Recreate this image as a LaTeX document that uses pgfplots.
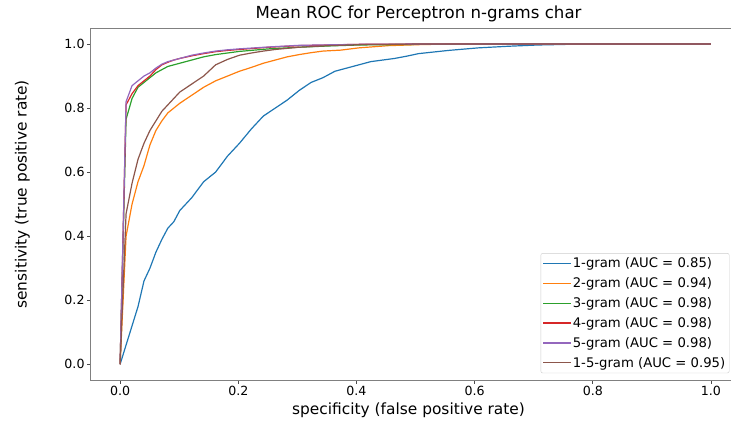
\documentclass[border=0pt]{standalone}
\usepackage{fontspec}
\setmainfont{DejaVu Sans}
\usepackage{pgfplots}
\pgfplotsset{compat=1.18}
\definecolor{c1}{HTML}{1F77B4}
\definecolor{c2}{HTML}{FF7F0E}
\definecolor{c3}{HTML}{2CA02C}
\definecolor{c4}{HTML}{D62728}
\definecolor{c5}{HTML}{9467BD}
\definecolor{c6}{HTML}{8C564B}
\begin{document}
\begin{tikzpicture}
\useasboundingbox (-90.5pt,-41pt) rectangle (640pt,380pt);
\clip (-90.5pt,-41pt) rectangle (640pt,380pt);
\begin{axis}[
  at={(0pt,0pt)}, anchor=south west,
  scale only axis, width=649.5pt, height=352pt,
  xmin=-0.05, xmax=1.05, ymin=-0.05, ymax=1.05,
  xtick={0,0.2,0.4,0.6,0.8,1.0}, ytick={0,0.2,0.4,0.6,0.8,1.0},
  xticklabels={0.0,0.2,0.4,0.6,0.8,1.0}, yticklabels={0.0,0.2,0.4,0.6,0.8,1.0},
  tick pos=left, tick align=outside, major tick length=3.5pt,
  every tick/.style={black!70, line width=0.8pt},
  axis line style={black!50, line width=1pt},
  /pgf/number format/assume math mode=true,
  ticklabel style={font=\fontsize{12.6}{15}\selectfont},
  xticklabel style={yshift=1pt},
  yticklabel style={xshift=1pt},
  title={Mean ROC for Perceptron n-grams char},
  title style={font=\fontsize{16.6}{19}\selectfont, yshift=-3pt, xshift=3pt},
  xlabel={specificity (false positive rate)},
  ylabel={sensitivity (true positive rate)},
  label style={font=\fontsize{15.4}{18}\selectfont},
  xlabel style={xshift=-7pt},
  ylabel style={at={(axis description cs:-0.088,0.528)}, anchor=south},
  legend style={at={(0.983,0.02)}, anchor=south east, font=\fontsize{13.2}{15}\selectfont,
    draw=black!20, rounded corners=2pt, fill=white, fill opacity=0.8, text opacity=1,
    inner xsep=2pt, inner ysep=2.5pt, row sep=4.3pt},
  legend cell align=left,
  legend image code/.code={\fill[#1, fill opacity=1, draw=none, rounded corners=0pt] (0pt,-0.7pt) rectangle (28pt,0.7pt);},
  every axis plot/.append style={line width=1.2pt, line join=round},
]
\addplot[c1] coordinates {
(0,0) (0.0101,0.06) (0.0202,0.12) (0.0303,0.18) (0.0404,0.26) (0.0505,0.30) (0.0606,0.35)
(0.0707,0.39) (0.0808,0.425) (0.0909,0.445) (0.101,0.48) (0.1212,0.52) (0.1414,0.57)
(0.1616,0.60) (0.1818,0.65) (0.202,0.69) (0.2222,0.735) (0.2424,0.775) (0.2626,0.80)
(0.2828,0.825) (0.303,0.855) (0.3232,0.88) (0.3434,0.895) (0.3636,0.915) (0.3838,0.925)
(0.404,0.935) (0.4242,0.945) (0.4444,0.95) (0.4646,0.955) (0.4848,0.962) (0.505,0.97)
(0.5556,0.98) (0.6061,0.988) (0.6566,0.993) (0.7071,0.997) (0.7576,0.999) (0.8081,1.0) (1.0,1.0)};
\addlegendentry{1-gram (AUC = 0.85)}
\addplot[c2] coordinates {
(0,0) (0.0101,0.40) (0.0202,0.50) (0.0303,0.57) (0.0404,0.62) (0.0505,0.685) (0.0606,0.73)
(0.0707,0.76) (0.0808,0.785) (0.0909,0.80) (0.101,0.815) (0.1212,0.84) (0.1414,0.865)
(0.1616,0.885) (0.1818,0.90) (0.202,0.915) (0.2222,0.927) (0.2424,0.94) (0.2626,0.95)
(0.2828,0.96) (0.303,0.967) (0.3232,0.973) (0.3434,0.978) (0.3737,0.981) (0.404,0.988)
(0.4545,0.995) (0.505,0.998) (0.5556,1.0) (1.0,1.0)};
\addlegendentry{2-gram (AUC = 0.94)}
\addplot[c3] coordinates {
(0,0) (0.0101,0.765) (0.0202,0.83) (0.0303,0.865) (0.0404,0.88) (0.0505,0.895) (0.0606,0.91)
(0.0707,0.92) (0.0808,0.93) (0.0909,0.935) (0.101,0.94) (0.1212,0.95) (0.1414,0.96)
(0.1616,0.967) (0.1818,0.972) (0.202,0.977) (0.2525,0.985) (0.303,0.99) (0.3535,0.994)
(0.404,0.997) (0.505,0.999) (0.6061,1.0) (1.0,1.0)};
\addlegendentry{3-gram (AUC = 0.98)}
\addplot[c4] coordinates {
(0,0) (0.0101,0.81) (0.0202,0.845) (0.0303,0.87) (0.0404,0.885) (0.0505,0.90) (0.0606,0.92)
(0.0707,0.935) (0.0808,0.943) (0.0909,0.95) (0.101,0.955) (0.1212,0.963) (0.1414,0.97)
(0.1616,0.976) (0.1818,0.98) (0.202,0.983) (0.2525,0.99) (0.303,0.995) (0.404,0.999)
(0.505,1.0) (1.0,1.0)};
\addlegendentry{4-gram (AUC = 0.98)}
\addplot[c5] coordinates {
(0,0) (0.0101,0.82) (0.0202,0.87) (0.0303,0.885) (0.0404,0.90) (0.0505,0.91) (0.0606,0.925)
(0.0707,0.937) (0.0808,0.945) (0.0909,0.95) (0.101,0.955) (0.1212,0.965) (0.1414,0.972)
(0.1616,0.978) (0.1818,0.982) (0.202,0.985) (0.2525,0.991) (0.303,0.996) (0.404,0.999)
(0.505,1.0) (1.0,1.0)};
\addlegendentry{5-gram (AUC = 0.98)}
\addplot[c6] coordinates {
(0,0) (0.0101,0.47) (0.0202,0.565) (0.0303,0.64) (0.0404,0.69) (0.0505,0.73) (0.0606,0.76)
(0.0707,0.79) (0.0808,0.81) (0.0909,0.83) (0.101,0.85) (0.1212,0.875) (0.1414,0.90)
(0.1616,0.935) (0.1818,0.952) (0.202,0.965) (0.2222,0.972) (0.2424,0.978) (0.2626,0.983)
(0.303,0.99) (0.3535,0.995) (0.404,0.998) (0.505,1.0) (1.0,1.0)};
\addlegendentry{1-5-gram (AUC = 0.95)}
\end{axis}
\end{tikzpicture}
\end{document}
